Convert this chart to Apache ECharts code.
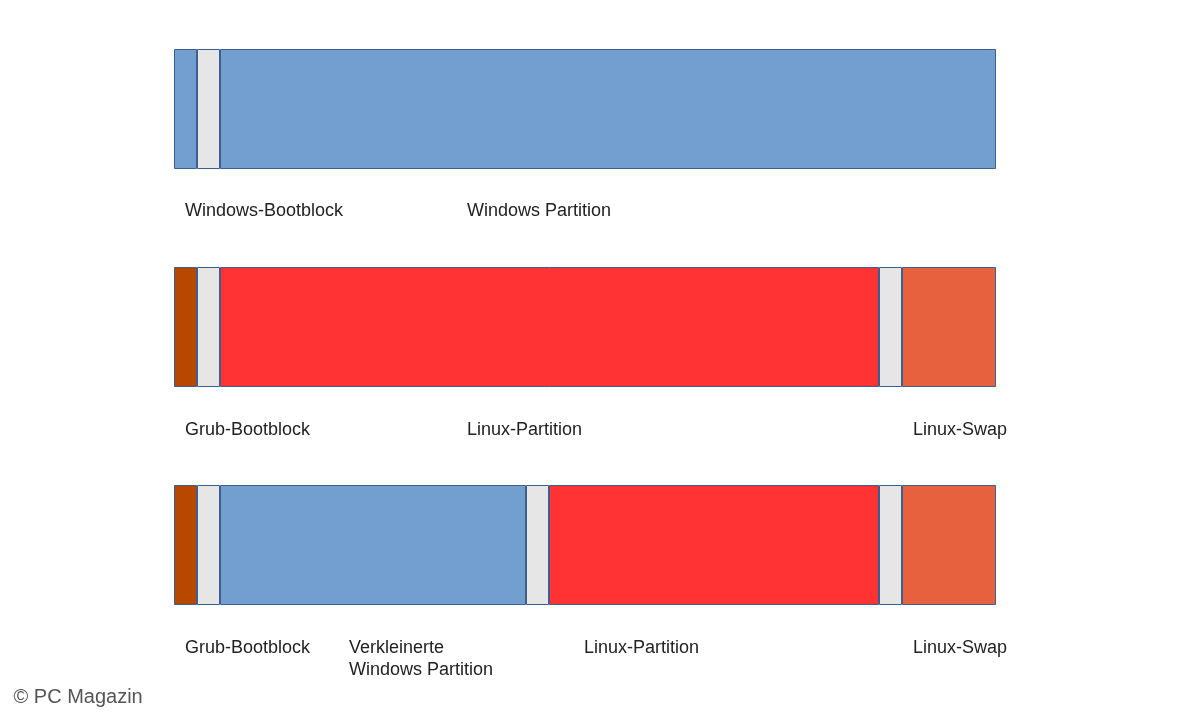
<!DOCTYPE html>
<html><head><meta charset="utf-8">
<script src="https://cdn.jsdelivr.net/npm/echarts@6/dist/echarts.min.js"></script>
<style>html,body{margin:0;padding:0;background:#fff}#c{width:1200px;height:720px}</style>
</head><body><div id="c"></div>
<script>
// Segment widths (relative disk units) per row
const row1Segments = ['Windows-Bootblock (rest)', 'Gap', 'Windows Partition'];
const row1Values = [23, 23, 776];
const row1Colors = ['#729fcf', '#e6e6e6', '#729fcf'];

const row2Values = [23, 23, 659, 23, 94];
const row2Colors = ['#b84700', '#e6e6e6', '#ff3333', '#e6e6e6', '#e8613f'];

const row3Values = [23, 23, 306, 23, 330, 23, 94];
const row3Colors = ['#b84700', '#e6e6e6', '#729fcf', '#e6e6e6', '#ff3333', '#e6e6e6', '#e8613f'];

const rows = [row1Values, row2Values, row3Values];
const rowColors = [row1Colors, row2Colors, row3Colors];
const rowTops = [49, 267, 485];

const row1Labels = [['Windows-Bootblock', 185, 211], ['Windows Partition', 467, 211]];
const row2Labels = [['Grub-Bootblock', 185, 430], ['Linux-Partition', 467, 430], ['Linux-Swap', 913, 430]];
const row3Labels = [['Grub-Bootblock', 185, 648], ['Verkleinerte\nWindows Partition', 349, 648], ['Linux-Partition', 584, 648], ['Linux-Swap', 913, 648]];

const total = 822;
const grid = [], xAxis = [], yAxis = [], series = [];
rows.forEach((vals, i) => {
  grid.push({left: 174, width: 822, top: rowTops[i], height: 120});
  xAxis.push({type: 'value', gridIndex: i, min: 0, max: total, show: false});
  yAxis.push({type: 'category', gridIndex: i, data: ['r'], show: false});
  vals.forEach((v, j) => {
    series.push({
      type: 'bar', xAxisIndex: i, yAxisIndex: i, stack: 's' + i,
      barWidth: 120, data: [v], silent: true,
      itemStyle: {color: rowColors[i][j], borderColor: '#3c5f8f', borderWidth: 1}
    });
  });
});
const graphic = [];
[row1Labels, row2Labels, row3Labels].forEach(ls => ls.forEach(([t, x, y]) => {
  graphic.push({type: 'text', left: x, top: y - 11, style: {text: t, font: '18px "Liberation Sans", Arial, sans-serif', fill: '#222', lineHeight: 22}});
}));
graphic.push({type: 'text', left: 12, top: 686, style: {text: '© PC Magazin', font: '20px "Liberation Sans", Arial, sans-serif', fill: '#555', stroke: '#fff', lineWidth: 3}});

const chart = echarts.init(document.getElementById('c'));
chart.setOption({animation: false, grid, xAxis, yAxis, series, graphic});
</script></body></html>
